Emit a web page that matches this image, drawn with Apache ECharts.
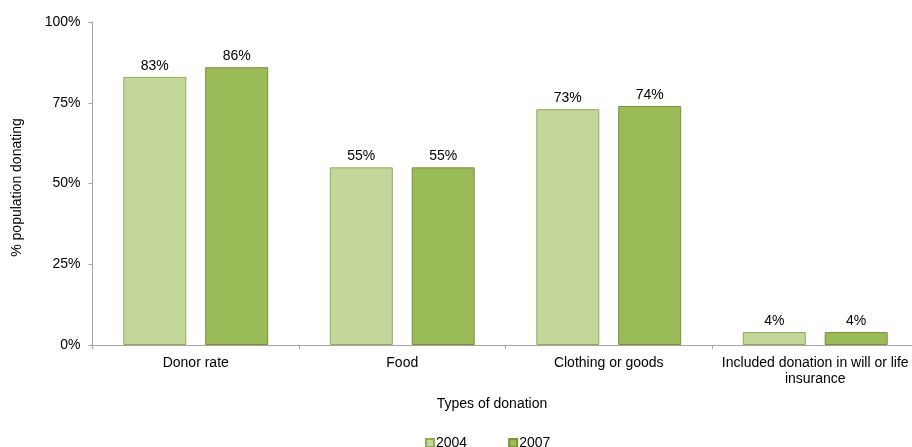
<!DOCTYPE html>
<html>
<head>
<meta charset="utf-8">
<script src="https://cdn.jsdelivr.net/npm/echarts@6/dist/echarts.min.js"></script>
<style>
  html, body { margin: 0; padding: 0; background: #fff; overflow: hidden; }
  #chart { width: 926px; height: 447px; }
</style>
</head>
<body>
<div id="chart"></div>
<script>
var categories = ['Donor rate', 'Food', 'Clothing or goods', 'Included donation in will or life\ninsurance'];
var years = ['2004', '2007'];
var values2004 = [83, 55, 73, 4];
var values2007 = [86, 55, 74, 4];
var yTicks = [0, 25, 50, 75, 100];

var font = 'Liberation Sans, Arial, sans-serif';
var axisGray = '#a6a6a6';

// the source chart runs a little past the right edge of the picture,
// so the chart box is wider than the window and gets clipped
var chart = echarts.init(document.getElementById('chart'));
chart.setOption({
    animation: false,
    textStyle: { fontFamily: font, color: '#000' },
    grid: { left: 92.5, top: 22, right: 7.5, bottom: 102, containLabel: false },
    legend: {
        data: years,
        top: 436,
        left: 425,
        padding: 0,
        itemWidth: 8,
        itemHeight: 8,
        itemGap: 41,
        icon: 'rect',
        textStyle: { fontFamily: font, fontSize: 14, color: '#000', padding: [0, 0, 0, -3] }
    },
    xAxis: {
        type: 'category',
        data: categories,
        name: 'Types of donation',
        nameLocation: 'middle',
        nameGap: 52,
        nameTextStyle: { fontFamily: font, fontSize: 14, color: '#000', padding: [0, 27, 0, 0] },
        axisLine: { lineStyle: { color: axisGray } },
        axisTick: { show: true, length: 4, lineStyle: { color: axisGray } },
        axisLabel: { fontFamily: font, fontSize: 14, color: '#000', margin: 10, lineHeight: 16, interval: 0 }
    },
    yAxis: {
        type: 'value',
        min: 0,
        max: 100,
        interval: 25,
        name: '% population donating',
        nameLocation: 'middle',
        nameGap: 68,
        nameTextStyle: { fontFamily: font, fontSize: 14, color: '#000', padding: [0, 8, 0, 0] },
        axisLine: { show: true, lineStyle: { color: axisGray } },
        axisTick: { show: true, length: 4, lineStyle: { color: axisGray } },
        splitLine: { show: false },
        axisLabel: {
            fontFamily: font, fontSize: 14, color: '#000', margin: 12,
            formatter: function (v) { return yTicks.indexOf(v) >= 0 ? v + '%' : ''; }
        }
    },
    series: [
        {
            name: years[0],
            type: 'bar',
            data: values2004,
            barWidth: 63,
            barGap: '30%',
            itemStyle: { color: '#c4d79b', borderColor: '#8fac55', borderWidth: 1 },
            label: { show: true, position: 'top', distance: 4, formatter: '{c}%', fontFamily: font, fontSize: 14, color: '#000' }
        },
        {
            name: years[1],
            type: 'bar',
            data: values2007,
            barWidth: 63,
            barGap: '30%',
            itemStyle: { color: '#9bbb59', borderColor: '#76923c', borderWidth: 1 },
            label: { show: true, position: 'top', distance: 4, formatter: '{c}%', fontFamily: font, fontSize: 14, color: '#000' }
        }
    ]
});
</script>
</body>
</html>
